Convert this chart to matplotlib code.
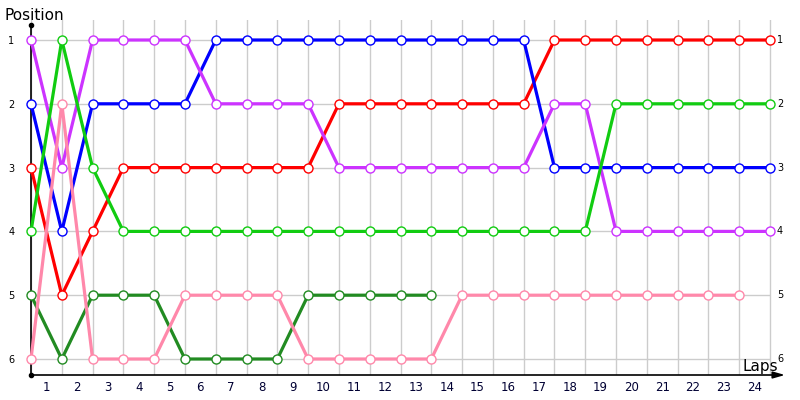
import matplotlib
matplotlib.use("Agg")
import matplotlib.pyplot as plt

laps = list(range(0, 25))
lap_labels = [str(i) for i in range(1, 25)]
positions = [1, 2, 3, 4, 5, 6]

red = [3, 5, 4, 3, 3, 3, 3, 3, 3, 3, 2, 2, 2, 2, 2, 2, 2, 1, 1, 1, 1, 1, 1, 1, 1]
blue = [2, 4, 2, 2, 2, 2, 1, 1, 1, 1, 1, 1, 1, 1, 1, 1, 1, 3, 3, 3, 3, 3, 3, 3, 3]
purple = [1, 3, 1, 1, 1, 1, 2, 2, 2, 2, 3, 3, 3, 3, 3, 3, 3, 2, 2, 4, 4, 4, 4, 4, 4]
lime = [4, 1, 3, 4, 4, 4, 4, 4, 4, 4, 4, 4, 4, 4, 4, 4, 4, 4, 4, 2, 2, 2, 2, 2, 2]
darkgreen = [5, 6, 5, 5, 5, 6, 6, 6, 6, 5, 5, 5, 5, 5]
pink = [6, 2, 6, 6, 6, 5, 5, 5, 5, 6, 6, 6, 6, 6, 5, 5, 5, 5, 5, 5, 5, 5, 5, 5]

series = [
    (red, "#ff0000"),
    (blue, "#0000ff"),
    (purple, "#cc33ff"),
    (lime, "#11cc11"),
    (darkgreen, "#228b22"),
    (pink, "#ff88aa"),
]

W, H = 800, 400
fig = plt.figure(figsize=(8, 4), dpi=100)
ax_left, ax_right, ax_top, ax_bottom = 31, 785, 20, 375
ax = fig.add_axes([ax_left / W, 1 - ax_bottom / H, (ax_right - ax_left) / W, (ax_bottom - ax_top) / H])

px_per_lap = (770 - 31) / 24.0
px_per_pos = (359 - 40) / 5.0
ax.set_xlim(0, (ax_right - ax_left) / px_per_lap)
ax.set_ylim(6 + (ax_bottom - 359) / px_per_pos, 1 - (40 - ax_top) / px_per_pos)

for s in ax.spines.values():
    s.set_visible(False)

# grid
for x in laps:
    ax.axvline(x, color="#cccccc", lw=1, zorder=0)
for p in positions:
    ax.hlines(p, 0, 24, color="#cccccc", lw=1, zorder=0)

for vals, c in series:
    ax.plot(laps[:len(vals)], vals, color=c, lw=2.3, marker="o", ms=6.5,
            markerfacecolor="white", markeredgecolor=c, markeredgewidth=1.0,
            clip_on=False, zorder=3)

ax.set_xticks([i + 0.5 for i in range(24)])
ax.set_xticklabels(lap_labels, fontsize=8.5, color="#000033")
ax.set_yticks(positions)
ax.set_yticklabels([str(p) for p in positions], fontsize=7)
ax.tick_params(axis="x", length=0, pad=4)
ax.tick_params(axis="y", length=0, pad=12)

for p in positions:
    ax.annotate(str(p), xy=(24, p), xytext=(5, 0), textcoords="offset points",
                fontsize=7, va="center", ha="left", annotation_clip=False)

# axes with arrow
ax.annotate("", xy=(1.0, 0), xytext=(0, 0), xycoords="axes fraction",
            arrowprops=dict(arrowstyle="-|>,head_length=0.7,head_width=0.2", color="black", lw=1.2,
                            shrinkA=0, shrinkB=0))
ax.plot([0, 0], [0, 0.985], transform=ax.transAxes, color="black", lw=1.2, clip_on=False)
ax.plot([0], [0.985], transform=ax.transAxes, marker="o", ms=3, color="black", clip_on=False)
ax.plot([0], [0], transform=ax.transAxes, marker="o", ms=3, color="black", clip_on=False)

fig.text(4 / W, 1 - 16 / H, "Position", fontsize=11, va="center", ha="left")
fig.text(742 / W, 1 - 366 / H, "Laps", fontsize=11, va="center", ha="left")

fig.savefig("out.png", dpi=100)
